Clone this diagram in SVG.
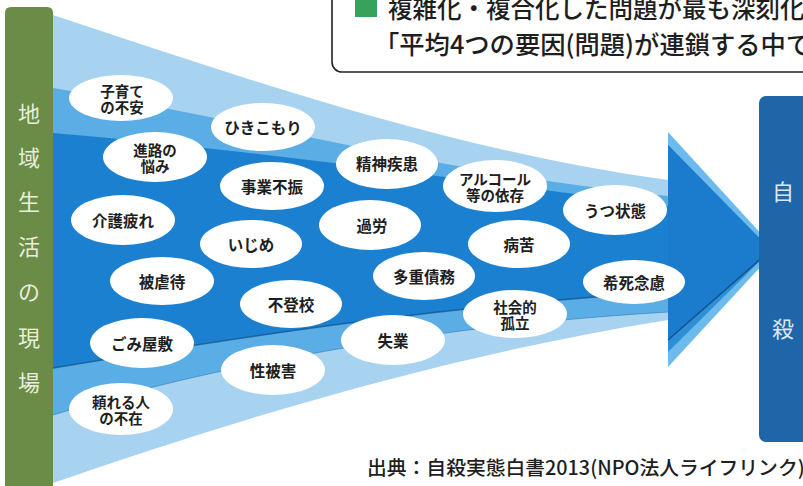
<svg xmlns="http://www.w3.org/2000/svg" width="803" height="486" viewBox="0 0 803 486">
<style>
.bub ellipse{fill:#ffffff}
.bub text{font-family:"Noto Sans CJK JP","Noto Sans",sans-serif;font-weight:700;font-size:15.5px;fill:#1e1e1e;text-anchor:middle;dominant-baseline:central}
.bub text.s{font-size:14.5px}
.vt{font-family:"Noto Sans CJK JP","Noto Sans",sans-serif;font-size:22px;fill:#e8eedb;text-anchor:middle;dominant-baseline:central}
.vt2{font-family:"Noto Sans CJK JP","Noto Sans",sans-serif;font-size:22px;fill:#dce7f3;text-anchor:middle;dominant-baseline:central}
.hd{font-family:"Noto Sans CJK JP","Noto Sans",sans-serif;font-weight:500;fill:#1e1e1e}
.cap{font-family:"Noto Sans CJK JP","Noto Sans",sans-serif;font-size:19.8px;font-weight:500;fill:#1e1e1e}
</style>
<rect width="803" height="486" fill="#ffffff"/>

<!-- header box -->
<g id="header">
  <rect x="332" y="-20" width="500" height="92" rx="10" fill="#ffffff" stroke="#222" stroke-width="1.6"/>
  <rect x="355" y="-5" width="22" height="22" fill="#35a35a"/>
  <text class="hd" x="388" y="18" font-size="24.5">複雑化・複合化した問題が最も深刻化</text>
  <text class="hd" x="374" y="54" font-size="25.3">「平均4つの要因(問題)が連鎖する中で</text>
</g>

<!-- funnel layers -->
<g id="funnel">
  <path d="M53,15 C250,80 450,150 668,180 L668,320 C450,355 250,415 53,483 Z" fill="#a8d3f0"/>
  <path d="M53,88 C250,120 450,175 668,196 L668,312 C450,325 230,360 53,415 Z" fill="#5aade5"/>
  <path d="M53,133 C250,150 450,178 668,206 L668,292 C450,305 250,335 53,368 Z" fill="#1b80cf"/>
  <path d="M53,368 C250,335 450,305 668,292" fill="none" stroke="#0e4f86" stroke-width="1.5" opacity="0.7"/>
  <path d="M53,415 C230,360 450,325 668,312" fill="none" stroke="#2f7fb8" stroke-width="1.2" opacity="0.6"/>
</g>

<!-- big arrow -->
<g id="connectors">
  <polygon points="668,132 776,250 668,367" fill="#6cbbec"/>
  <polygon points="668,145 771,250 668,352" fill="#2e8fd6"/>
  <polygon points="668,145 771,250 668,340" fill="#1b7ccd"/>
  <line x1="668" y1="340" x2="771" y2="250" stroke="#0c3f6e" stroke-width="1.5" opacity="0.7"/>
</g>

<!-- left green bar -->
<g id="local-site">
  <path d="M5,486 L5,13 Q5,7 11,7 L47,7 Q53,7 53,13 L53,486 Z" fill="#6b8c46"/>
  <text class="vt" x="29" y="112">地</text>
  <text class="vt" x="29" y="156">域</text>
  <text class="vt" x="29" y="200">生</text>
  <text class="vt" x="29" y="245">活</text>
  <text class="vt" x="29" y="290">の</text>
  <text class="vt" x="29" y="336">現</text>
  <text class="vt" x="29" y="381">場</text>
</g>

<!-- suicide box -->
<g id="suicide">
  <rect x="759" y="96" width="60" height="346" rx="7" fill="#1f66a9"/>
  <text class="vt2" x="783" y="190">自</text>
  <text class="vt2" x="783" y="327">殺</text>
</g>

<!-- bubbles -->
<g id="n1" class="bub"><ellipse cx="121" cy="98" rx="52" ry="23"/><text class="s" x="122" y="90">子育て</text><text class="s" x="122" y="106">の不安</text></g>
<g id="n2" class="bub"><ellipse cx="263" cy="127" rx="52" ry="24"/><text x="263" y="127">ひきこもり</text></g>
<g id="n3" class="bub"><ellipse cx="155" cy="157" rx="52" ry="25"/><text class="s" x="155" y="149">進路の</text><text class="s" x="155" y="165">悩み</text></g>
<g id="n4" class="bub"><ellipse cx="272" cy="186" rx="52" ry="24"/><text x="272" y="186">事業不振</text></g>
<g id="n5" class="bub"><ellipse cx="123" cy="220" rx="52" ry="25"/><text x="123" y="220">介護疲れ</text></g>
<g id="n6" class="bub"><ellipse cx="387" cy="164" rx="51" ry="25"/><text x="387" y="163">精神疾患</text></g>
<g id="n7" class="bub"><ellipse cx="495" cy="186" rx="52" ry="26"/><text class="s" x="495" y="178">アルコール</text><text class="s" x="495" y="194">等の依存</text></g>
<g id="n8" class="bub"><ellipse cx="615" cy="210" rx="52" ry="25"/><text x="615" y="210">うつ状態</text></g>
<g id="n9" class="bub"><ellipse cx="370" cy="225" rx="51" ry="25"/><text x="372" y="225">過労</text></g>
<g id="n10" class="bub"><ellipse cx="251" cy="244" rx="51" ry="24"/><text x="251" y="244">いじめ</text></g>
<g id="n11" class="bub"><ellipse cx="519" cy="244" rx="51" ry="24"/><text x="519" y="244">病苦</text></g>
<g id="n12" class="bub"><ellipse cx="162" cy="281" rx="52" ry="24"/><text x="162" y="281">被虐待</text></g>
<g id="n13" class="bub"><ellipse cx="424" cy="276" rx="51" ry="24"/><text x="424" y="276">多重債務</text></g>
<g id="n14" class="bub"><ellipse cx="291" cy="304" rx="51" ry="24"/><text x="291" y="304">不登校</text></g>
<g id="n15" class="bub"><ellipse cx="634" cy="282" rx="51" ry="22"/><text x="634" y="282">希死念慮</text></g>
<g id="n16" class="bub"><ellipse cx="515" cy="314" rx="52" ry="24"/><text class="s" x="515" y="306">社会的</text><text class="s" x="515" y="322">孤立</text></g>
<g id="n17" class="bub"><ellipse cx="393" cy="340" rx="52" ry="25"/><text x="393" y="340">失業</text></g>
<g id="n18" class="bub"><ellipse cx="142" cy="343" rx="52" ry="25"/><text x="142" y="343">ごみ屋敷</text></g>
<g id="n19" class="bub"><ellipse cx="273" cy="370" rx="52" ry="25"/><text x="273" y="370">性被害</text></g>
<g id="n20" class="bub"><ellipse cx="121" cy="409" rx="52" ry="26"/><text class="s" x="121" y="401">頼れる人</text><text class="s" x="121" y="417">の不在</text></g>

<g id="caption">
  <text class="cap" x="367" y="475">出典：自殺実態白書2013(NPO法人ライフリンク)</text>
</g>
</svg>
